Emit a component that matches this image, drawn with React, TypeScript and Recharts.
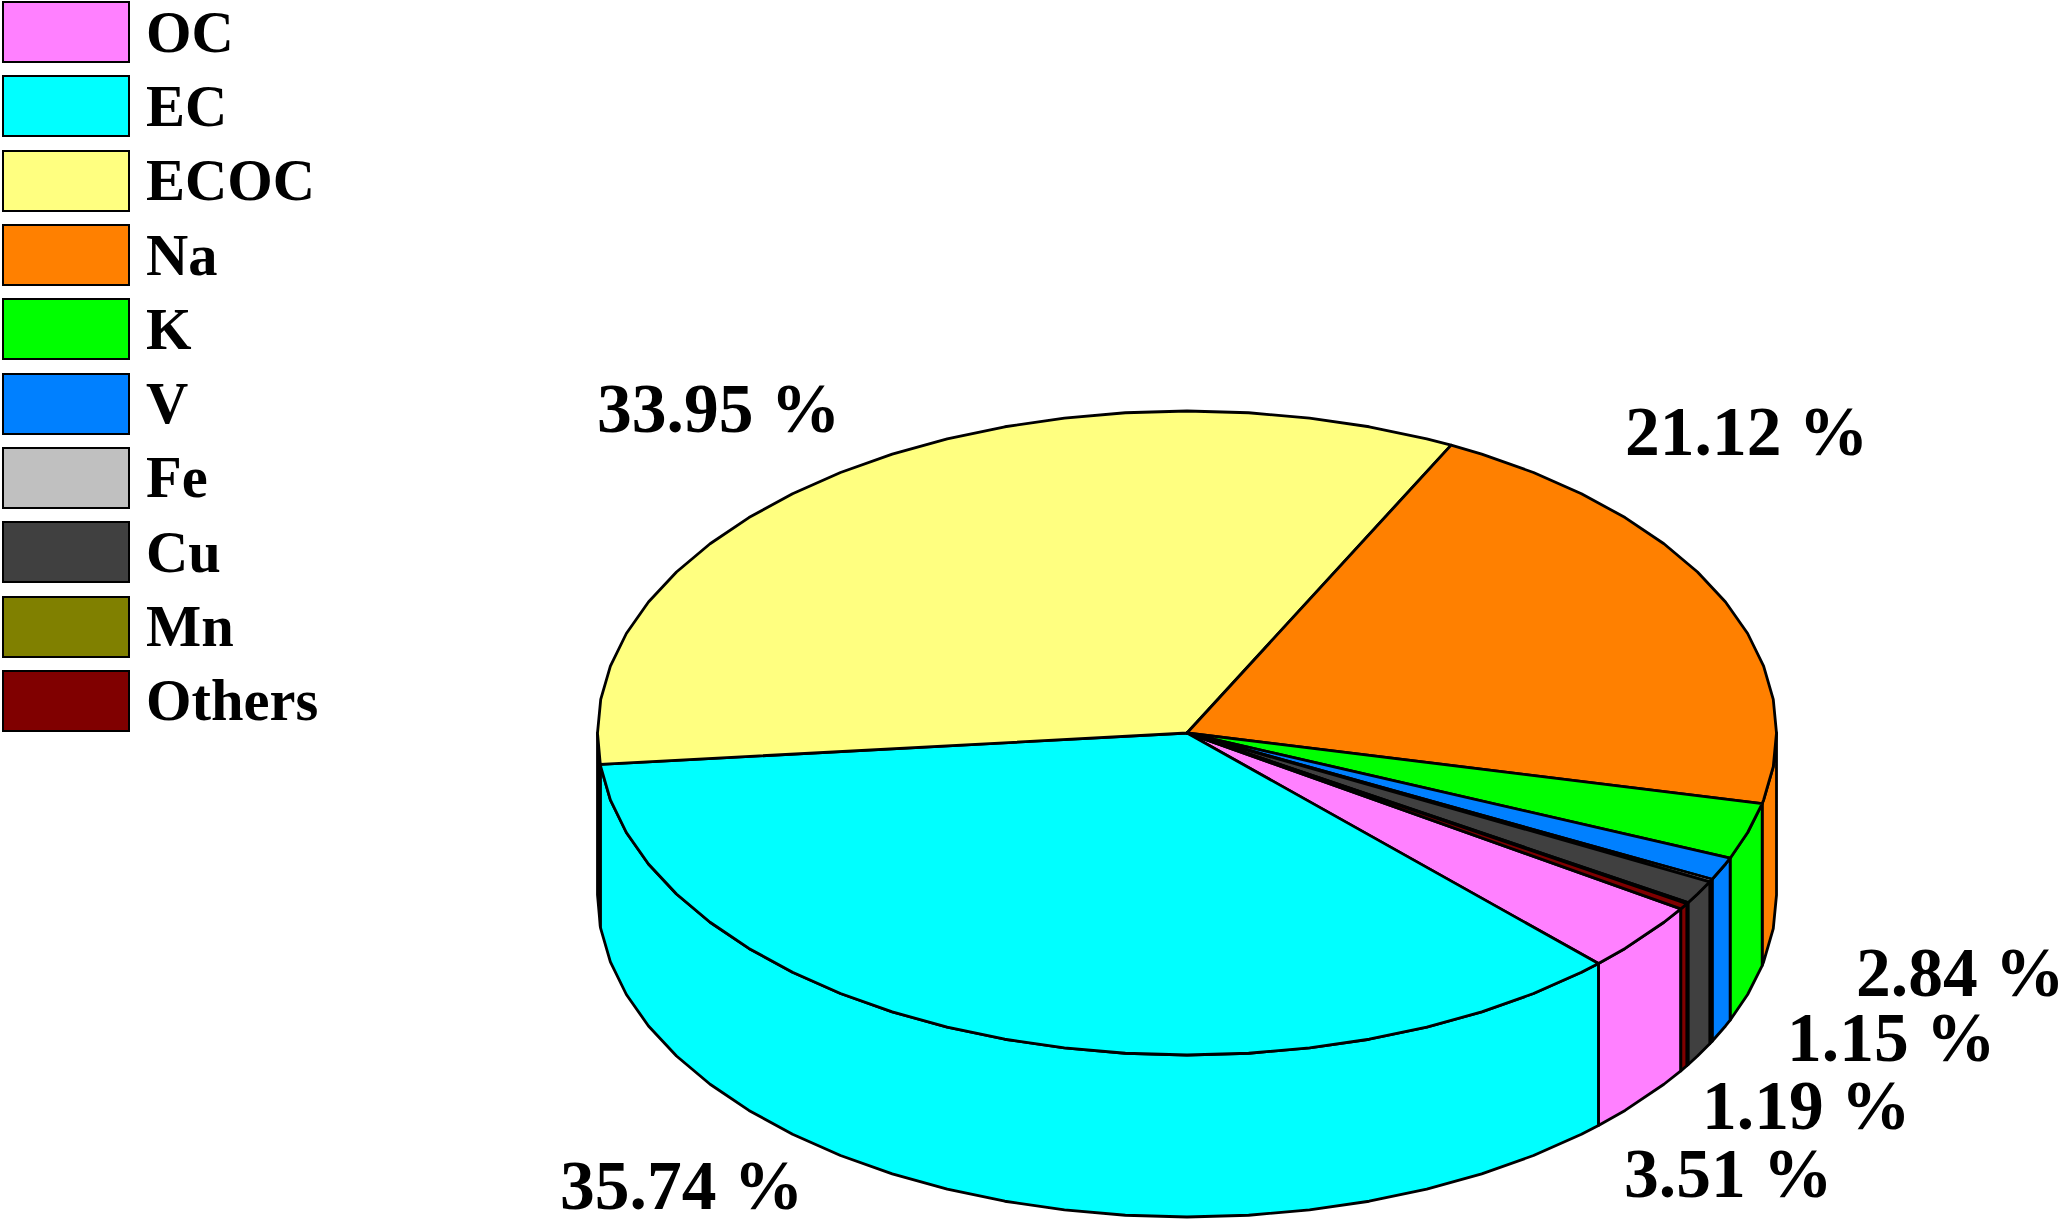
import { PieChart, Pie, Legend } from 'recharts';

const CATEGORIES = ['OC', 'EC', 'ECOC', 'Na', 'K', 'V', 'Fe', 'Cu', 'Mn', 'Others'];
const SHARES = [3.51, 35.74, 33.95, 21.12, 2.84, 1.15, 0.14, 1.19, 0.06, 0.3];
const COLORS = ['#ff80ff', '#00ffff', '#ffff80', '#ff8000', '#00ff00', '#0080ff', '#c0c0c0', '#404040', '#808000', '#800000'];
const SHOWN_LABELS = ['OC', 'EC', 'ECOC', 'Na', 'K', 'V', 'Cu'];

// where each percentage sits (left edge, baseline)
const LABEL_POS: Record<string, [number, number]> = {
  OC: [1624, 1197],
  EC: [560, 1209],
  ECOC: [597, 432],
  Na: [1625, 455],
  K: [1856, 996],
  V: [1787, 1061],
  Cu: [1702, 1129],
};

const data = CATEGORIES.map((name, i) => ({ name, value: SHARES[i], fill: COLORS[i] }));

const WIDTH = 2067;
const HEIGHT = 1226;
const CX = 1187;
const CY = 733;
const RX = 589.5;
const RY = 322;
const DEPTH = 162;
const STROKE = 2.8;
const START_ANGLE = -33.1;
const ARC_STEP = 6;

const rad = (a: number) => (a * Math.PI) / 180;

// arc is a polyline in the original, so keep it faceted
function arcPoints(cx: number, cy: number, rx: number, from: number, to: number, drop = 0) {
  const ry = (rx * RY) / RX;
  const angles = [from];
  const dir = to > from ? 1 : -1;
  let a = (dir > 0 ? Math.floor(from / ARC_STEP) + 1 : Math.ceil(from / ARC_STEP) - 1) * ARC_STEP;
  while (dir > 0 ? a < to : a > to) {
    angles.push(a);
    a += dir * ARC_STEP;
  }
  angles.push(to);
  return angles.map((d) => [cx + rx * Math.cos(rad(d)), cy - ry * Math.sin(rad(d)) + drop]);
}

const toPath = (pts: number[][]) =>
  pts.map((p, i) => `${i ? 'L' : 'M'}${p[0].toFixed(2)} ${p[1].toFixed(2)}`).join(' ') + ' Z';

// the parts of a slice facing the viewer (recharts angles run clockwise here, so negative)
function frontRanges(hi: number, lo: number) {
  const out: [number, number][] = [];
  for (const [top, bottom] of [[0, -180], [-360, -540]]) {
    const a = Math.min(hi, top);
    const b = Math.max(lo, bottom);
    if (a > b) out.push([a, b]);
  }
  return out;
}

function Slice3D(props: any) {
  const { cx, cy, outerRadius, startAngle, endAngle, fill } = props;
  const hi = Math.max(startAngle, endAngle);
  const lo = Math.min(startAngle, endAngle);
  const top = [[cx, cy], ...arcPoints(cx, cy, outerRadius, hi, lo)];
  return (
    <g>
      {frontRanges(hi, lo).map(([a, b]) => {
        const upper = arcPoints(cx, cy, outerRadius, a, b);
        const lower = arcPoints(cx, cy, outerRadius, b, a, DEPTH);
        return (
          <path
            key={a}
            d={toPath([...upper, ...lower])}
            fill={fill}
            stroke="#000"
            strokeWidth={STROKE}
            strokeLinejoin="round"
          />
        );
      })}
      <path d={toPath(top)} fill={fill} stroke="#000" strokeWidth={STROKE} strokeLinejoin="round" />
    </g>
  );
}

function renderLabel(props: any) {
  const { name, value } = props;
  if (!SHOWN_LABELS.includes(name)) return <g />;
  const [x, y] = LABEL_POS[name];
  return (
    <text x={x} y={y} fontFamily="Liberation Serif" fontWeight="bold" fontSize={69.5} fill="#000" stroke="none">
      {value.toFixed(2)} %
    </text>
  );
}

function renderLegend({ payload }: any) {
  return (
    <div>
      {(payload || []).map((entry: any) => (
        <div key={entry.value} style={{ display: 'flex', alignItems: 'center', height: 74.3 }}>
          <div
            style={{
              width: 128,
              height: 62,
              boxSizing: 'border-box',
              border: '2.8px solid #000',
              background: entry.color,
            }}
          />
          <span
            style={{
              marginLeft: 16.5,
              fontFamily: 'Liberation Serif',
              fontWeight: 'bold',
              fontSize: 58.5,
              lineHeight: '61px',
            }}
          >
            {entry.value}
          </span>
        </div>
      ))}
    </div>
  );
}

export default function App() {
  return (
    <div style={{ position: 'absolute', left: 0, top: 0, width: WIDTH, height: HEIGHT }}>
      <PieChart width={WIDTH} height={HEIGHT} margin={{ top: 0, right: 0, bottom: 0, left: 0 }}>
        <Pie
          data={data}
          dataKey="value"
          nameKey="name"
          cx={CX}
          cy={CY}
          innerRadius={0}
          outerRadius={RX}
          startAngle={START_ANGLE}
          endAngle={START_ANGLE - 360}
          paddingAngle={0}
          isAnimationActive={false}
          shape={Slice3D}
          activeShape={Slice3D}
          inactiveShape={Slice3D}
          label={renderLabel}
          labelLine={false}
        />
        <Legend
          content={renderLegend}
          itemSorter={null}
          layout="vertical"
          align="center"
          verticalAlign="middle"
          wrapperStyle={{ position: 'absolute', left: 1.5, top: -5, width: 340 }}
        />
      </PieChart>
    </div>
  );
}
